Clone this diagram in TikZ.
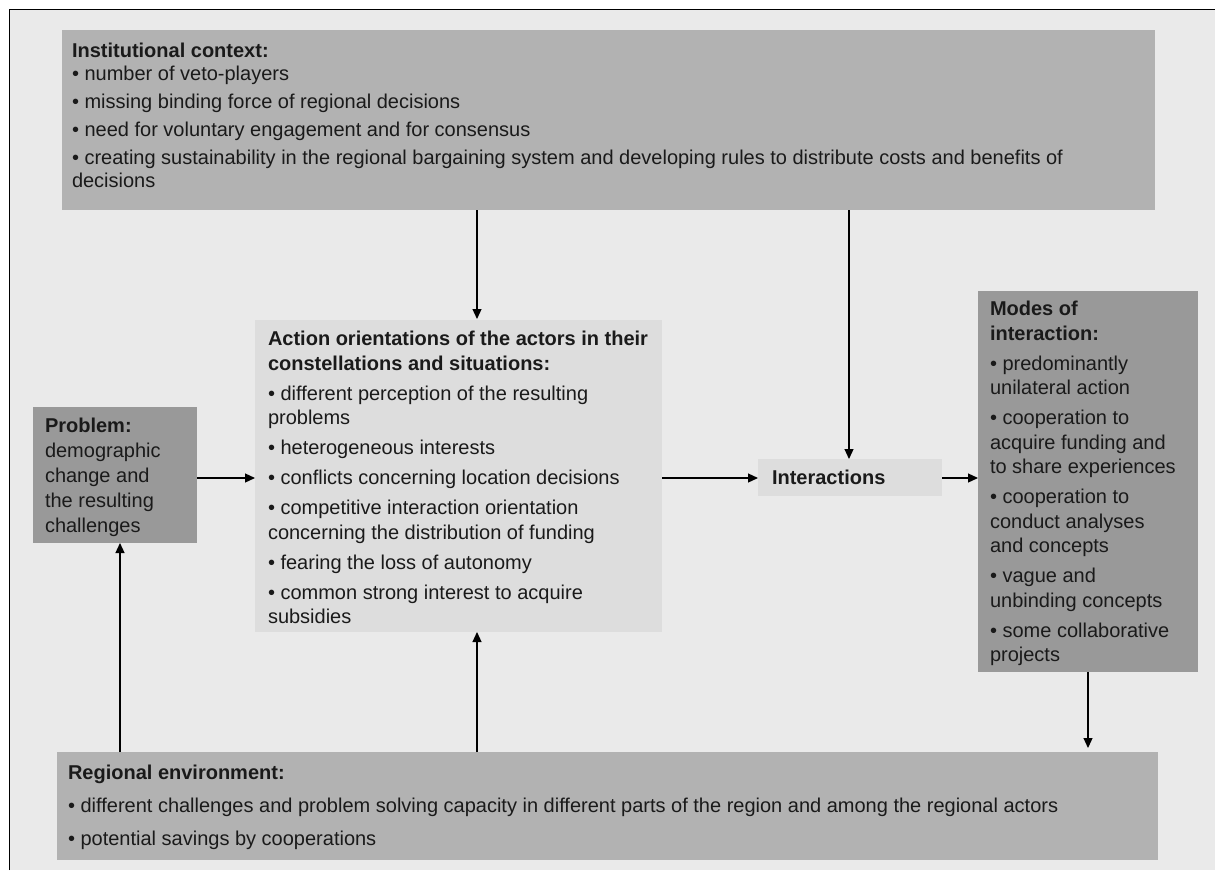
\documentclass[tikz,border=0pt]{standalone}
\usepackage{fontspec}
\setmainfont{Liberation Sans}
\usetikzlibrary{arrows.meta}
\definecolor{bgc}{HTML}{EAEAEA}
\definecolor{boxmid}{HTML}{B2B2B2}
\definecolor{boxdark}{HTML}{999999}
\definecolor{boxlight}{HTML}{DDDDDD}
\definecolor{txtc}{HTML}{1A1A1A}
\begin{document}
\begin{tikzpicture}[x=1pt,y=-1pt,
  box/.style={draw=none, inner sep=0pt, outer sep=0pt, anchor=north west},
  txt/.style={inner sep=0pt, outer sep=0pt, anchor=north west, align=left, text=txtc},
  arr/.style={-{Triangle[length=10pt,width=9pt]}, line width=1.2pt}
]
\useasboundingbox (0,0) rectangle (1215,870);
\fill[white] (0,0) rectangle (1215,870);
\fill[bgc] (10,10) rectangle (1215,870);
\draw[line width=1.5pt] (9.5,870) -- (9.5,9.5) -- (1215,9.5);

% boxes
\node[box, fill=boxmid, minimum width=1093pt, minimum height=180pt] (inst) at (62,30) {};
\node[box, fill=boxdark, minimum width=164pt, minimum height=136pt] (prob) at (33,407) {};
\node[box, fill=boxlight, minimum width=407pt, minimum height=312pt] (act) at (255,320) {};
\node[box, fill=boxlight, minimum width=184pt, minimum height=37pt] (inter) at (758,459) {};
\node[box, fill=boxdark, minimum width=220pt, minimum height=381pt] (modes) at (978,291) {};
\node[box, fill=boxmid, minimum width=1101pt, minimum height=108pt] (reg) at (57,752) {};

% texts
\node[txt, font=\fontsize{20}{23}\selectfont] (instT) at (72,43) {\textbf{Institutional context:}\\
• number of veto-players\\[5pt]
• missing binding force of regional decisions\\[5pt]
• need for voluntary engagement and for consensus\\[5pt]
• creating sustainability in the regional bargaining system and developing rules to distribute costs and benefits of\\
decisions};

\node[txt, font=\fontsize{20}{25}\selectfont] (probT) at (45,418) {\textbf{Problem:}\\
demographic\\ change and\\ the resulting\\ challenges};

\node[txt, font=\fontsize{20}{24.5}\selectfont] (actT) at (268,331) {\textbf{Action orientations of the actors in their}\\
\textbf{constellations and situations:}\\[5.5pt]
• different perception of the resulting\\ problems\\[5.5pt]
• heterogeneous interests\\[5.5pt]
• conflicts concerning location decisions\\[5.5pt]
• competitive interaction orientation\\ concerning the distribution of funding\\[5.5pt]
• fearing the loss of autonomy\\[5.5pt]
• common strong interest to acquire\\ subsidies};

\node[txt, font=\fontsize{20}{24.5}\selectfont] (interT) at (772,470) {\textbf{Interactions}};

\node[txt, font=\fontsize{20}{24.5}\selectfont] (modesT) at (990,301) {\textbf{Modes of}\\
\textbf{interaction:}\\[5.5pt]
• predominantly\\ unilateral action\\[5.5pt]
• cooperation to\\ acquire funding and\\ to share experiences\\[5.5pt]
• cooperation to\\ conduct analyses\\ and concepts\\[5.5pt]
• vague and\\ unbinding concepts\\[5.5pt]
• some collaborative\\ projects};

\node[txt, font=\fontsize{20}{24}\selectfont] (regT) at (68,765) {\textbf{Regional environment:}\\[9pt]
• different challenges and problem solving capacity in different parts of the region and among the regional actors\\[9pt]
• potential savings by cooperations};

% connectors
\coordinate (xa) at (477,0);
\coordinate (xb) at (849,0);
\coordinate (xc) at (1088,0);
\coordinate (xd) at (120,0);
\coordinate (yh) at (0,478);
\draw[arr, shorten >=1pt] (inst.south -| xa) -- (act.north -| xa);
\draw[arr] (inst.south -| xb) -- (inter.north -| xb);
\draw[arr] (prob.east |- yh) -- (act.west |- yh);
\draw[arr] (act.east |- yh) -- (inter.west |- yh);
\draw[arr] (inter.east |- yh) -- (modes.west |- yh);
\draw[arr, shorten >=4pt] (modes.south -| xc) -- (reg.north -| xc);
\draw[arr] (reg.north -| xd) -- (prob.south -| xd);
\draw[arr] (reg.north -| xa) -- (act.south -| xa);
\end{tikzpicture}
\end{document}
